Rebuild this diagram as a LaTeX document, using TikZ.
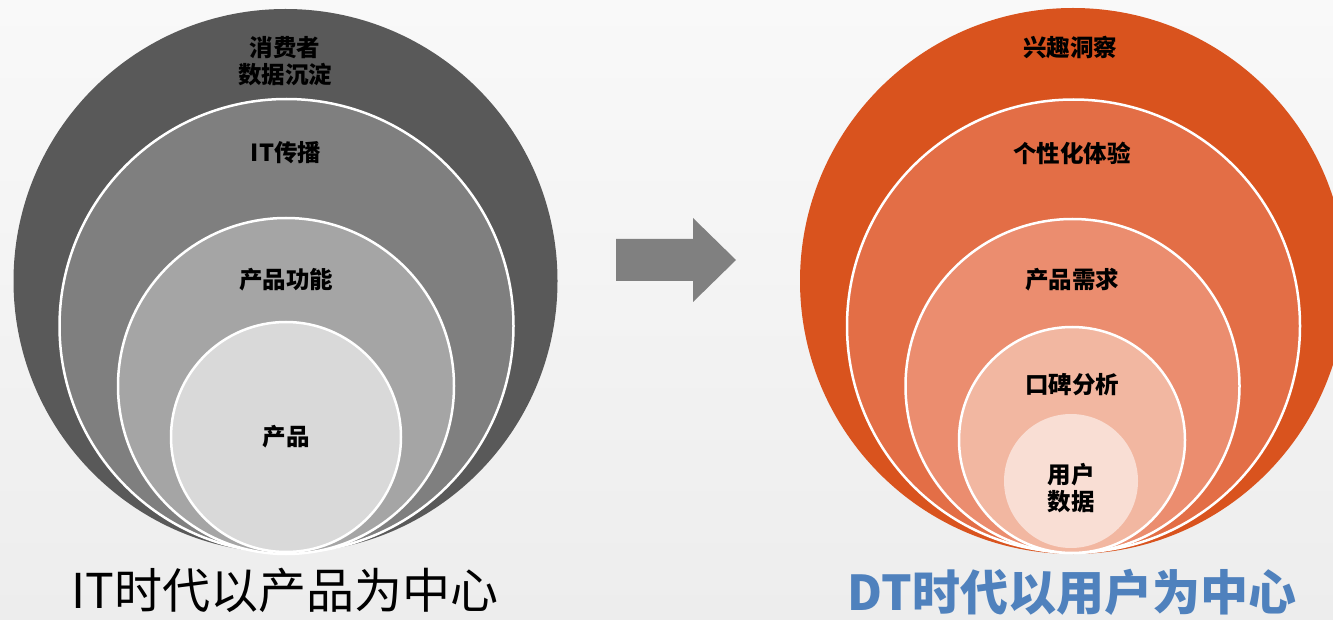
\documentclass[tikz,border=0pt]{standalone}
\usepackage{fontspec}
\newfontfamily\cjk{Noto Sans CJK SC}
\definecolor{bgtop}{HTML}{F9F9F9}
\definecolor{bgbot}{HTML}{EDEDED}
\definecolor{g1}{HTML}{595959}
\definecolor{g2}{HTML}{7F7F7F}
\definecolor{g3}{HTML}{A5A5A5}
\definecolor{g4}{HTML}{D9D9D9}
\definecolor{o1}{HTML}{D9531E}
\definecolor{o2}{HTML}{E36E46}
\definecolor{o3}{HTML}{EB8D6F}
\definecolor{o4}{HTML}{F2B7A1}
\definecolor{o5}{HTML}{F9DED4}
\definecolor{arrowgray}{HTML}{808080}
\definecolor{capblue}{HTML}{4F81BD}
\begin{document}
\begin{tikzpicture}[x=1pt,y=-1pt,
  ring/.style={circle, draw=white, line width=2.5pt, inner sep=0pt, minimum size=#1},
  lbl/.style={font=\cjk\bfseries\fontsize{23.5}{27}\selectfont, align=center, text=black, inner sep=0pt},
  caption/.style={font=\cjk\fontsize{48}{48}\selectfont, inner sep=0pt}
]
\useasboundingbox (0,0) rectangle (1333,620);
\clip (0,0) rectangle (1333,620);
\shade[top color=bgtop, bottom color=bgbot] (0,0) rectangle (1333,620);

% left rings
\node[ring=544, draw=none, fill=g1] (L1) at (285.5,281) {};
\node[ring=454, fill=g2] (L2) at (286.5,326) {};
\node[ring=336, fill=g3] (L3) at (286,386) {};
\node[ring=230, fill=g4] (L4) at (286,437) {};

\node[lbl] (tL1) at (285,61) {消费者\\数据沉淀};
\node[lbl] (tL2) at (286,153) {IT传播};
\node[lbl] (tL3) at (286,280) {产品功能};
\node[lbl] (tL4) at (286,437) {产品};

% right rings
\node[ring=546, draw=none, fill=o1] (R1) at (1073,281) {};
\node[ring=453, fill=o2] (R2) at (1073.5,326) {};
\node[ring=334, fill=o3] (R3) at (1072.5,386) {};
\node[ring=226, fill=o4] (R4) at (1072,440) {};
\node[ring=134, draw=none, fill=o5] (R5) at (1071,481) {};

\node[lbl] (tR1) at (1070,47) {兴趣洞察};
\node[lbl] (tR2) at (1072,153) {个性化体验};
\node[lbl] (tR3) at (1072,280) {产品需求};
\node[lbl] (tR4) at (1072,385) {口碑分析};
\node[lbl] (tR5) at (1071,488) {用户\\数据};

% arrow
\fill[arrowgray] (616,239) -- (693,239) -- (693,218) -- (736,260) -- (693,302) -- (693,281) -- (616,281) -- cycle;

% captions
\node[caption, text=black] (capL) at (285,590) {IT时代以产品为中心};
\node[caption, text=capblue, font=\cjk\bfseries\fontsize{48}{48}\selectfont] (capR) at (1072,592) {DT时代以用户为中心};
\end{tikzpicture}
\end{document}
